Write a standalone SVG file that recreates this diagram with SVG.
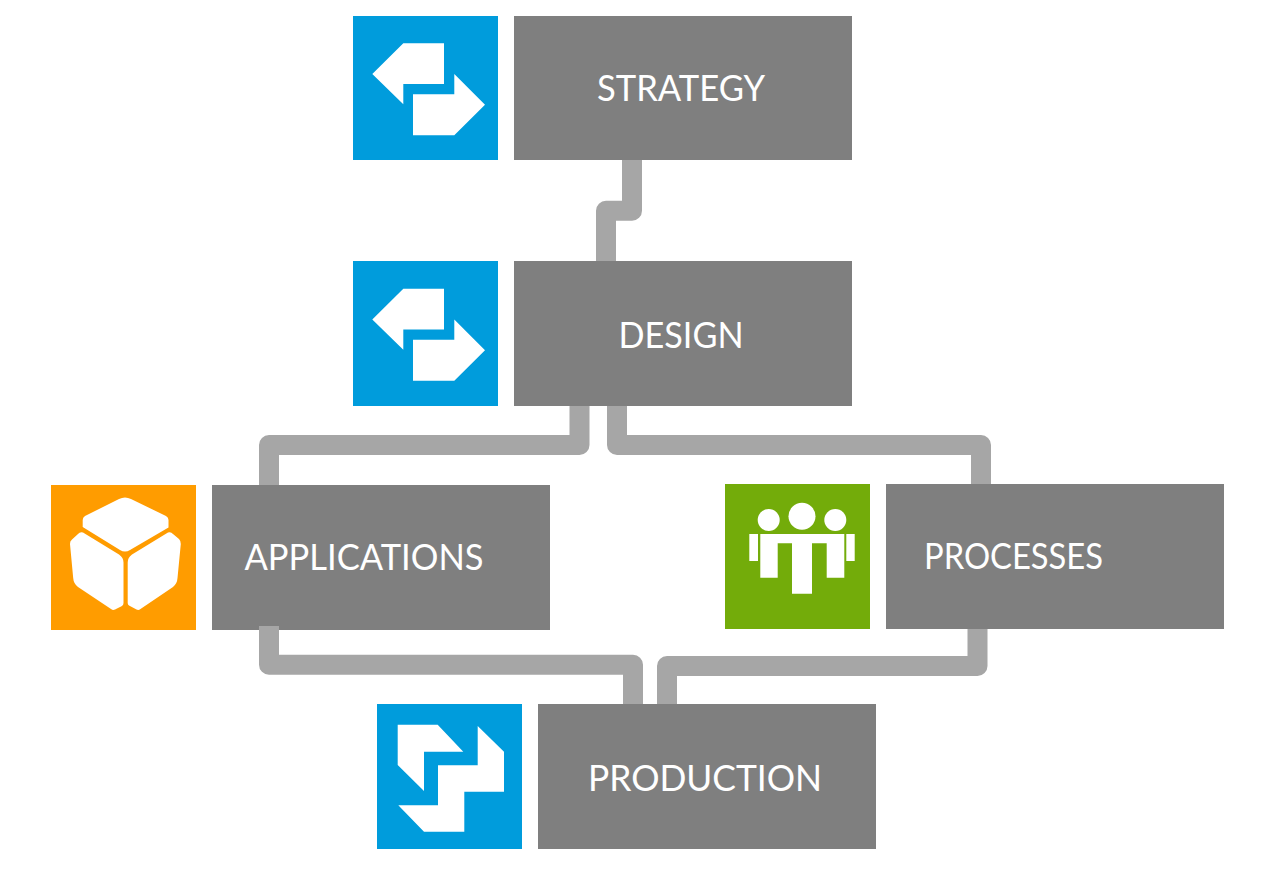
<svg xmlns="http://www.w3.org/2000/svg" width="1280" height="887" viewBox="0 0 1280 887">
<style>
.box{fill:#7f7f7f}
.blue{fill:#009cdc}
.orange{fill:#ff9c00}
.green{fill:#73ac0a}
.glyph{fill:#fff}
.conn{fill:none;stroke:#a6a6a6;stroke-width:20;stroke-linejoin:round}
.label{fill:#fff;font-family:"Lato","Open Sans",sans-serif;font-size:36px}
</style>
<defs>
<g id="swap">
<polygon class="glyph" points="444,43.3 403.3,43.3 372.3,74 403.3,104.3 403.3,84 444,84"/>
<polygon class="glyph" points="413,94.3 454.3,94.3 454.3,74 485,104.7 454.3,135.3 413,135.3"/>
</g>
</defs>
<rect width="1280" height="887" fill="#fff"/>
<g id="strategy">
<rect class="blue" x="353" y="16" width="145" height="144"/>
<use href="#swap"/>
<rect class="box" x="514" y="16" width="338" height="144"/>
<text class="label" x="681" y="101" text-anchor="middle" textLength="168" lengthAdjust="spacingAndGlyphs">STRATEGY</text>
</g>
<g id="design">
<rect class="blue" x="353" y="261" width="145" height="145"/>
<use href="#swap" y="245.500"/>
<rect class="box" x="514" y="261" width="338" height="145"/>
<text class="label" x="681" y="347.500" text-anchor="middle" textLength="125" lengthAdjust="spacingAndGlyphs">DESIGN</text>
</g>
<g id="applications">
<rect class="orange" x="51" y="485" width="145" height="145"/>
<path class="glyph" d="M119,499Q125,496 131,499L166,516Q168.500,517.500 168.500,520V527.500L130,550Q125,553 120,550L82.700,527V520Q82.700,517.500 85,516Z"/>
<path class="glyph" d="M83,532.500L119,554.500Q123.500,557.500 123.500,562.500V603Q123.500,605 122,606L115,609.500Q113,610.500 111,609L78,587Q73.500,583.500 73.200,578L70,544Q69.800,541 72,539.500L78,534Q80,531.500 83,532.500Z"/>
<path class="glyph" d="M168,532.500Q171,531.500 173,534L179,539Q181,541 180.800,544L177.500,578Q177.200,583.500 173,587L140.500,609Q138.500,610.500 136.500,609.500L129,605.500Q127.700,604.500 127.700,603V562.500Q127.700,557.500 132,554.500Z"/>
<rect class="box" x="212" y="485" width="338" height="145"/>
<text class="label" x="364" y="570" text-anchor="middle" textLength="239" lengthAdjust="spacingAndGlyphs">APPLICATIONS</text>
</g>
<g id="processes">
<rect class="green" x="725" y="484" width="145" height="145"/>
<circle class="glyph" cx="768.700" cy="520" r="11"/>
<circle class="glyph" cx="802" cy="516.300" r="13.500"/>
<circle class="glyph" cx="835.300" cy="520" r="11"/>
<rect class="glyph" x="749.300" y="534" width="8.700" height="27"/>
<rect class="glyph" x="846.300" y="534" width="8.400" height="27"/>
<polygon class="glyph" points="760.300,534 844.300,534 844.300,577.700 826.700,577.700 826.700,543.300 812,543.300 812,593.700 792,593.700 792,543.300 777.700,543.300 777.700,577.700 760.300,577.700"/>
<rect class="box" x="886" y="484" width="338" height="145"/>
<text class="label" x="1013.500" y="569" text-anchor="middle" textLength="179" lengthAdjust="spacingAndGlyphs">PROCESSES</text>
</g>
<g id="production">
<rect class="blue" x="377" y="704" width="145" height="145"/>
<polygon class="glyph" points="397.700,724.700 437.700,724.700 463.300,751.700 424,751.700 424,791 397.700,765"/>
<polygon class="glyph" points="477.700,726 504,751.700 504,791.700 464.300,791.700 464.300,831.700 424,831.700 398.300,805.300 438,805.300 438,765.300 477.700,765.300"/>
<rect class="box" x="538" y="704" width="338" height="145"/>
<text class="label" x="705" y="790.500" text-anchor="middle" textLength="234" lengthAdjust="spacingAndGlyphs">PRODUCTION</text>
</g>
<g id="connectors">
<path class="conn" d="M632,160V210.700H606V261"/>
<path class="conn" d="M579.500,406V445H269V485"/>
<path class="conn" d="M617,406V445H981V484"/>
<path class="conn" d="M269,626V664.700H633V704"/>
<path class="conn" d="M977.500,629V666H667V704"/>
</g>
</svg>
